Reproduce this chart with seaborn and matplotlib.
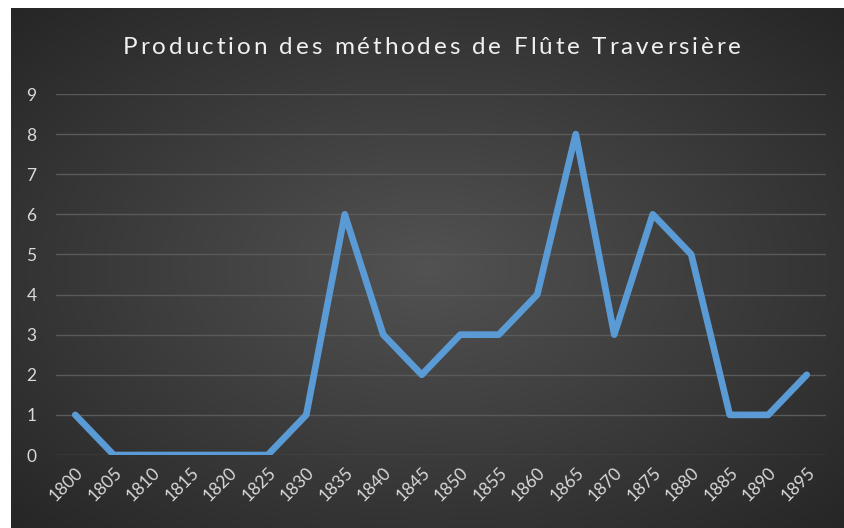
import numpy as np
import pandas as pd
import seaborn as sns
import matplotlib.pyplot as plt
from matplotlib.colors import LinearSegmentedColormap

sns.set_style("dark")
plt.rcParams['font.family'] = ['Lato', 'DejaVu Sans']

years = [1800, 1805, 1810, 1815, 1820, 1825, 1830, 1835, 1840, 1845,
         1850, 1855, 1860, 1865, 1870, 1875, 1880, 1885, 1890, 1895]
counts = [1, 0, 0, 0, 0, 0, 1, 6, 3, 2, 3, 3, 4, 8, 3, 6, 5, 1, 1, 2]
title = "Production des méthodes de Flûte Traversière"

df = pd.DataFrame({"annee": years, "methodes": counts})

W, H = 845, 528
fig = plt.figure(figsize=(W / 100, H / 100), dpi=100, facecolor="white")

# dark chart area with radial gradient (Excel style)
bg = fig.add_axes([11 / W, 0, (W - 11) / W, (H - 8) / H])
bg.set_axis_off()
yy, xx = np.mgrid[-1:1:300j, -1:1:500j]
r = np.sqrt(xx ** 2 + yy ** 2) / np.sqrt(2)
cmap = LinearSegmentedColormap.from_list("bg", ["#525252", "#3c3c3c", "#262626"])
bg.imshow(r, cmap=cmap, aspect="auto", extent=[0, 1, 0, 1], vmin=0, vmax=1)
bg.set_xlim(0, 1)
bg.set_ylim(0, 1)

ax = fig.add_axes([56 / W, 73 / H, (826 - 56) / W, (434 - 73) / H])
ax.patch.set_alpha(0)
for s in ax.spines.values():
    s.set_visible(False)

sns.lineplot(data=df, x="annee", y="methodes", ax=ax, color="#5b9bd5",
             linewidth=4.8, solid_joinstyle="round", solid_capstyle="round")

ax.set_xlim(1800 - 2.5, 1895 + 2.5)
ax.set_ylim(0, 9)
ax.set_yticks(range(0, 10))
ax.set_xticks(years)
ax.set_xticklabels([str(y) for y in years], rotation=45, ha="right",
                   va="top", rotation_mode="anchor")
ax.tick_params(axis="both", length=0, colors="#d9d9d9", labelsize=12.5)
ax.tick_params(axis="y", pad=14)
ax.tick_params(axis="x", pad=7)
ax.yaxis.grid(True, color="#5a5a5a", linewidth=1)
ax.xaxis.grid(False)
ax.set_axisbelow(True)
ax.set_xlabel("")
ax.set_ylabel("")

# title with wide letter spacing, laid out char by char
renderer = fig.canvas.get_renderer()
fs = 17.5
widths = []
for ch in title:
    t = fig.text(0, 0, ch if ch != " " else "a a", fontsize=fs)
    w = t.get_window_extent(renderer).width
    if ch == " ":
        t2 = fig.text(0, 0, "aa", fontsize=fs)
        w = w - t2.get_window_extent(renderer).width
        t2.remove()
    widths.append(w)
    t.remove()
left, right = 123, 741
extra = (right - left - sum(widths)) / (len(title) - 1)
x = left
for ch, w in zip(title, widths):
    fig.text(x / W, 1 - 47 / H, ch, ha="left", va="center",
             color="#f0f0f0", fontsize=fs)
    x += w + extra

fig.savefig("out.png", dpi=100, facecolor="white")
